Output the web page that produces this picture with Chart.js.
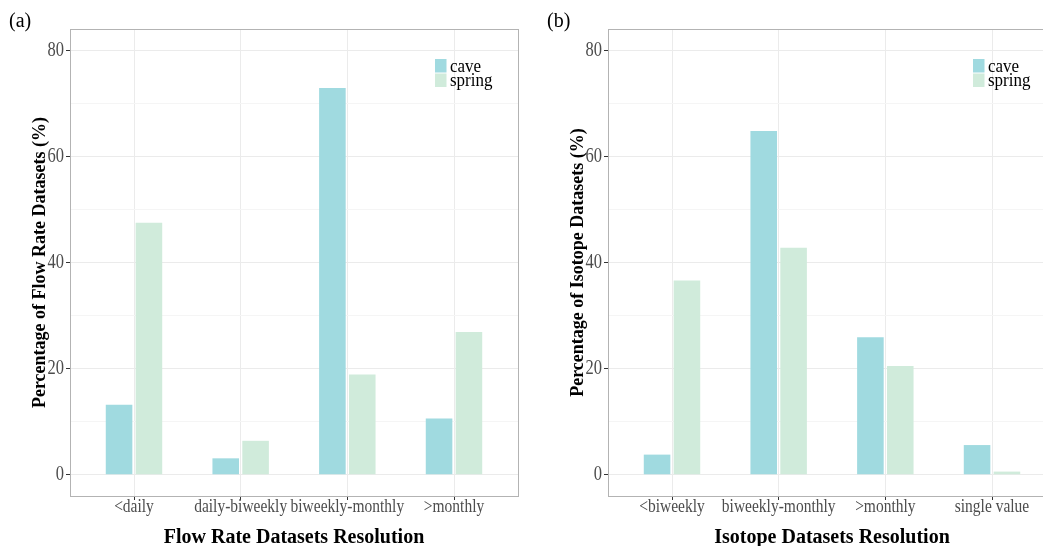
<!DOCTYPE html>
<html>
<head>
<meta charset="utf-8">
<script src="https://cdn.jsdelivr.net/npm/chart.js@4"></script>
<style>
  html, body { margin: 0; padding: 0; background: #fff; overflow: hidden; }
  #wrap { position: relative; width: 1043px; height: 546px; overflow: hidden; }
  canvas { position: absolute; top: 0; }
  #flowChart { left: 0; }
  #isoChart { left: 538px; }
</style>
</head>
<body>
<div id="wrap">
  <canvas id="flowChart" width="538" height="546"></canvas>
  <canvas id="isoChart" width="538" height="546"></canvas>
</div>
<script>
// values (percent)
const seriesNames = ['cave', 'spring'];
const flowLabels = ['<daily', 'daily-biweekly', 'biweekly-monthly', '>monthly'];
const flowCave = [13.2, 3.1, 72.9, 10.6];
const flowSpring = [47.5, 6.4, 18.9, 26.9];
const isoLabels = ['<biweekly', 'biweekly-monthly', '>monthly', 'single value'];
const isoCave = [3.8, 64.8, 25.9, 5.6];
const isoSpring = [36.6, 42.8, 20.5, 0.6];
const yTicks = [0, 10, 20, 30, 40, 50, 60, 70, 80];
const yLabelled = [0, 20, 40, 60, 80];

const caveColor = 'rgb(160,218,224)';
const springColor = 'rgb(208,235,219)';
const serif = "'Liberation Serif', 'Times New Roman', serif";
const tickStretch = 1.27;   // the source figure's tick text is taller than plain Times

// draw the tick labels a bit taller than wide, like the original
const tallTicks = {
  id: 'tallTicks',
  beforeDraw(chart) {
    Object.values(chart.scales).forEach(s => {
      if (s._tall) return;
      const drawLabels = s.drawLabels.bind(s);
      s.drawLabels = function(area) {
        const ctx = this.ctx;
        const fill = ctx.fillText;
        ctx.fillText = function(t, x, y) {
          this.save();
          this.translate(x, y);
          this.scale(1, tickStretch);
          fill.call(this, t, 0, 0);
          this.restore();
        };
        drawLabels(area);
        ctx.fillText = fill;
      };
      s._tall = true;
    });
  }
};

// panel border, "(a)" label and the in-panel legend
const panelExtras = {
  id: 'panelExtras',
  afterDraw(chart, args, opts) {
    const ctx = chart.ctx;
    const a = chart.chartArea;
    ctx.save();
    ctx.strokeStyle = '#b3b3b3';
    ctx.lineWidth = 1;
    ctx.strokeRect(a.left + 0.5, a.top + 0.5, a.right - a.left, a.bottom - a.top);

    ctx.fillStyle = '#000';
    ctx.font = '20px ' + serif;
    ctx.textBaseline = 'alphabetic';
    ctx.textAlign = 'left';
    ctx.fillText(opts.tag, 9, 27);

    ctx.font = '17px ' + serif;
    ctx.textBaseline = 'middle';
    chart.data.datasets.forEach((ds, i) => {
      const y = a.top + 30 + i * 14.5;
      ctx.fillStyle = ds.backgroundColor;
      ctx.fillRect(a.right - 83, y, 11.5, 13.5);
      ctx.fillStyle = '#000';
      ctx.save();
      ctx.translate(a.right - 68, y + 7.5);
      ctx.scale(1, 1.12);
      ctx.fillText(ds.label, 0, 0);
      ctx.restore();
    });
    ctx.restore();
  }
};

function makeChart(id, tag, labels, cave, spring, xTitle, yTitle) {
  const toPoints = vals => vals.map((v, i) => ({x: i, y: v}));
  return new Chart(document.getElementById(id), {
    type: 'bar',
    data: {
      datasets: [
        {label: seriesNames[0], data: toPoints(cave), backgroundColor: caveColor},
        {label: seriesNames[1], data: toPoints(spring), backgroundColor: springColor}
      ]
    },
    options: {
      responsive: false,
      animation: false,
      layout: {padding: {top: 29, right: 20, left: 0, bottom: 0}},
      categoryPercentage: 0.56,
      barPercentage: 0.89,
      plugins: {
        legend: {display: false},
        tooltip: {enabled: false},
        panelExtras: {tag: tag}
      },
      scales: {
        x: {
          type: 'linear',
          offset: false,
          min: -0.6,
          max: labels.length - 0.4,
          afterBuildTicks: s => { s.ticks = labels.map((l, i) => ({value: i})); },
          afterFit: s => { s.height = 50; },
          ticks: {
            callback: v => labels[v],
            autoSkip: false,
            maxRotation: 0,
            padding: -2,
            color: '#4d4d4d',
            font: {family: serif, size: 15.5}
          },
          grid: {offset: false, color: '#ebebeb', tickColor: '#333', tickLength: 4, drawTicks: true},
          border: {display: false},
          title: {
            display: true,
            text: xTitle,
            color: '#000',
            padding: {top: 0, bottom: -2},
            font: {family: serif, size: 20, weight: 'bold', lineHeight: 1}
          }
        },
        y: {
          min: -4,
          max: 84,
          afterBuildTicks: s => { s.ticks = yTicks.map(v => ({value: v})); },
          afterFit: s => { s.width = 70; },
          ticks: {
            callback: v => yLabelled.includes(v) ? String(v) : '',
            padding: 2,
            color: '#4d4d4d',
            font: {family: serif, size: 16.5}
          },
          grid: {
            color: c => yLabelled.includes(c.tick.value) ? '#ebebeb' : '#f5f5f5',
            tickColor: c => yLabelled.includes(c.tick.value) ? '#333' : 'rgba(0,0,0,0)',
            tickLength: 4
          },
          border: {display: false},
          title: {
            display: true,
            text: yTitle,
            color: '#000',
            padding: {top: 31, bottom: 0},
            font: {family: serif, size: 18, weight: 'bold', lineHeight: 1}
          }
        }
      }
    },
    plugins: [tallTicks, panelExtras]
  });
}

makeChart('flowChart', '(a)', flowLabels, flowCave, flowSpring,
  'Flow Rate Datasets Resolution', 'Percentage of Flow Rate Datasets (%)');
makeChart('isoChart', '(b)', isoLabels, isoCave, isoSpring,
  'Isotope Datasets Resolution', 'Percentage of Isotope Datasets (%)');
</script>
</body>
</html>
